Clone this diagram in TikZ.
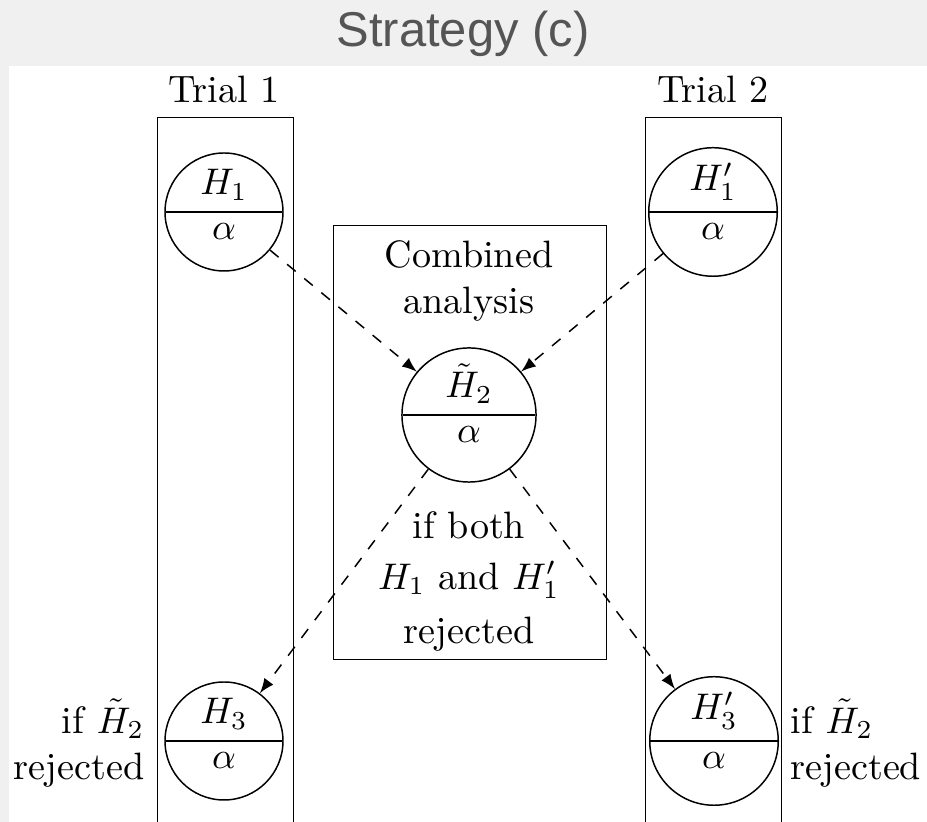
\documentclass[tikz,border=0pt]{standalone}
\usepackage{fontspec}
\newfontfamily\titlefont{Liberation Sans}
\usetikzlibrary{shapes.multipart,arrows}
\definecolor{pagegray}{HTML}{F0F0F0}
\definecolor{titlegray}{HTML}{555555}
\begin{document}
\begin{tikzpicture}[x=0.27pt,y=-0.27pt,
  every node/.style={font=\fontsize{10.3pt}{12.4pt}\selectfont},
  hypo/.style={circle split, draw, inner xsep=0pt, inner ysep=3pt},
  smallhypo/.style={hypo, minimum size=31.86pt},
  bighypo/.style={hypo, minimum size=36.2pt},
  box/.style={draw, inner sep=0pt, anchor=north west},
  trialbox/.style={box, minimum width=36.72pt, minimum height=200pt},
  flow/.style={dashed, -latex},
  plain/.style={inner sep=0pt}]

\useasboundingbox (0,0) rectangle (927,822);
\clip (0,0) rectangle (927,822);

% page background and white drawing panel
\fill[pagegray] (0,0) rectangle (927,822);
\fill[white] (9,66) rectangle (927,822);

% heading
\node[plain, anchor=base, font=\titlefont\fontsize{13.2pt}{16pt}\selectfont, text=titlegray]
  (title) at (463,47) {Strategy (c)};

% containers
\node[trialbox] (trialA) at (157,117) {};
\node[trialbox] (trialB) at (645,117) {};
\node[box, minimum width=73.6pt, minimum height=117.1pt] (combined) at (333,225) {};

\node[plain, anchor=base] (trialAlabel) at (224,103) {Trial 1};
\node[plain, anchor=base] (trialBlabel) at (713,103) {Trial 2};
\node[plain, anchor=north, align=center] (combinedlabel) at (469,240) {Combined\\analysis};

% hypotheses with their levels
\node[smallhypo] (h1)  at (224,212) {$H_1$\nodepart{lower}$\alpha$};
\node[smallhypo] (h1p) at (713,212) {$H_1'$\nodepart{lower}$\alpha$};
\node[bighypo]   (h2)  at (469,415) {$\tilde{H}_2$\nodepart{lower}$\alpha$};
\node[smallhypo] (h3)  at (224,741) {$H_3$\nodepart{lower}$\alpha$};
\node[smallhypo] (h3p) at (714,741) {$H_3'$\nodepart{lower}$\alpha$};

% conditions
\node[plain, anchor=north, align=center] (bothcond) at (469,511)
  {if both\\[1.3pt] $H_1$ and $H_1'$\\[2.1pt] rejected};
\node[plain, anchor=east, align=right] (condA) at (145,743) {if $\tilde{H}_2$\\rejected};
\node[plain, anchor=west, align=left] (condB) at (790,743) {if $\tilde{H}_2$\\rejected};

% propagation of the significance level
\draw[flow] (h1)  -- (h2);
\draw[flow] (h1p) -- (h2);
\draw[flow] (h2)  -- (h3);
\draw[flow] (h2)  -- (h3p);
\end{tikzpicture}
\end{document}
